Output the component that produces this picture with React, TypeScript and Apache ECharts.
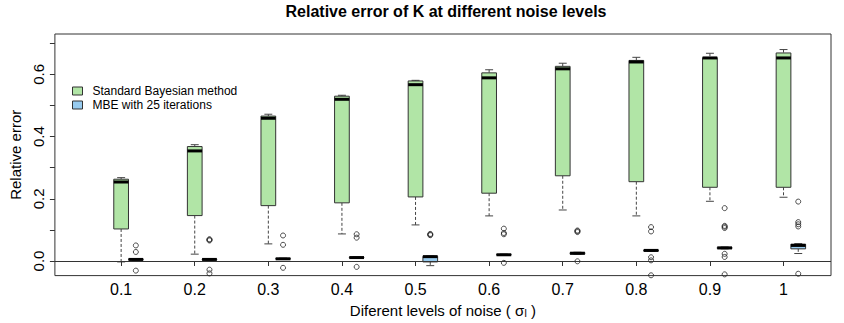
import React, { useEffect, useRef } from "react";
import * as echarts from "echarts";

// Noise levels (x categories) and their axis positions
const noiseLevels = ["0.1", "0.2", "0.3", "0.4", "0.5", "0.6", "0.7", "0.8", "0.9", "1"];
const positions = [1, 2, 3, 4, 5, 6, 7, 8, 9, 10];

// Box statistics: [lower whisker, Q1, median, Q3, upper whisker]
const standardBayes: number[][] = [
  [-0.003, 0.103, 0.254, 0.263, 0.268],
  [0.022, 0.146, 0.354, 0.368, 0.374],
  [0.055, 0.178, 0.459, 0.466, 0.472],
  [0.087, 0.187, 0.52, 0.53, 0.533],
  [0.116, 0.206, 0.567, 0.579, 0.581],
  [0.145, 0.218, 0.589, 0.605, 0.615],
  [0.164, 0.274, 0.618, 0.626, 0.636],
  [0.145, 0.255, 0.64, 0.645, 0.655],
  [0.192, 0.237, 0.653, 0.654, 0.668],
  [0.205, 0.237, 0.653, 0.669, 0.68],
];

const mbe25: number[][] = [
  [0.003, 0.004, 0.005, 0.006, 0.007],
  [0.003, 0.004, 0.005, 0.006, 0.007],
  [0.005, 0.006, 0.007, 0.008, 0.009],
  [0.009, 0.01, 0.011, 0.012, 0.013],
  [-0.015, -0.003, 0.014, 0.015, 0.016],
  [0.018, 0.019, 0.02, 0.021, 0.022],
  [0.021, 0.022, 0.025, 0.027, 0.028],
  [0.031, 0.032, 0.034, 0.035, 0.036],
  [0.039, 0.04, 0.042, 0.044, 0.045],
  [0.024, 0.039, 0.05, 0.054, 0.056],
];

// Outliers of the MBE boxes, one list per noise level
const mbeOutliers: number[][] = [
  [0.05, 0.029, -0.031],
  [0.066, 0.068, 0.07, -0.028, -0.04],
  [0.082, 0.052, -0.022],
  [0.086, 0.075, -0.019],
  [0.083, 0.085, 0.087],
  [0.104, 0.09, 0.086, -0.006],
  [0.093, 0.096, 0.098, -0.001],
  [0.109, 0.095, 0.012, 0.002, -0.046],
  [0.17, 0.106, 0.11, 0.113, 0.023, 0.013, -0.043],
  [0.191, 0.125, 0.118, 0.111, -0.041],
];

const yTicks = [0, 0.1, 0.2, 0.3, 0.4, 0.5, 0.6, 0.7];
const yLabels = [0, 0.2, 0.4, 0.6];

const GREEN = "#B1E5A6";
const BLUE = "#97CBEF";
const MBE_OFFSET = 0.2;
const BOX_WIDTH = 0.2;
const FONT = "'Liberation Sans', Arial, Helvetica, sans-serif";

function makeRenderItem(fill: string) {
  return (params: any, api: any) => {
    const x = api.value(0);
    const pLo = api.coord([x, api.value(1)]);
    const pQ1 = api.coord([x, api.value(2)]);
    const pMed = api.coord([x, api.value(3)]);
    const pQ3 = api.coord([x, api.value(4)]);
    const pHi = api.coord([x, api.value(5)]);
    const w = api.size([BOX_WIDTH, 0])[0];
    const cx = pMed[0];
    const half = w / 2;
    const capHalf = w * 0.27;
    const whisker = { stroke: "#444", lineWidth: 1, lineDash: [3, 2] };
    const cap = { stroke: "#444", lineWidth: 1 };
    return {
      type: "group",
      children: [
        { type: "line", shape: { x1: cx, y1: pHi[1], x2: cx, y2: pQ3[1] }, style: whisker },
        { type: "line", shape: { x1: cx, y1: pQ1[1], x2: cx, y2: pLo[1] }, style: whisker },
        { type: "line", shape: { x1: cx - capHalf, y1: pHi[1], x2: cx + capHalf, y2: pHi[1] }, style: cap },
        { type: "line", shape: { x1: cx - capHalf, y1: pLo[1], x2: cx + capHalf, y2: pLo[1] }, style: cap },
        {
          type: "rect",
          shape: { x: cx - half, y: pQ3[1], width: w, height: pQ1[1] - pQ3[1] },
          style: { fill, stroke: "#333", lineWidth: 1 },
        },
        { type: "line", shape: { x1: cx - half, y1: pMed[1], x2: cx + half, y2: pMed[1] }, style: { stroke: "#000", lineWidth: 3 } },
      ],
    };
  };
}

export default function App() {
  const ref = useRef<HTMLDivElement>(null);
  useEffect(() => {
    document.body.style.margin = "0";
    if (!ref.current) return;
    const chart = echarts.init(ref.current, undefined, { renderer: "svg" });

    const greenData = standardBayes.map((s, i) => [positions[i], ...s]);
    const blueData = mbe25.map((s, i) => [positions[i] + MBE_OFFSET, ...s]);
    const outlierData: number[][] = [];
    mbeOutliers.forEach((list, i) => list.forEach((v) => outlierData.push([positions[i] + MBE_OFFSET, v])));

    chart.setOption({
      animation: false,
      backgroundColor: "#fff",
      textStyle: { fontFamily: FONT },
      title: {
        text: "Relative error of K at different noise levels",
        left: 441,
        top: -2,
        textAlign: "center",
        textStyle: { fontFamily: FONT, fontSize: 16, fontWeight: "bold", color: "#000" },
      },
      legend: {
        orient: "vertical",
        left: 72,
        top: 84,
        padding: 0,
        itemGap: 0,
        itemWidth: 10,
        itemHeight: 8,
        textStyle: { fontFamily: FONT, fontSize: 12, color: "#000", lineHeight: 14, padding: [0, 0, 0, 5] },
        data: [
          { name: "Standard Bayesian method", icon: "rect", itemStyle: { color: GREEN, borderColor: "#333", borderWidth: 1 } },
          { name: "MBE with 25 iterations", icon: "rect", itemStyle: { color: BLUE, borderColor: "#333", borderWidth: 1 } },
        ],
      },
      grid: {
        left: 54,
        right: 13,
        top: 34,
        bottom: 46,
        show: true,
        borderColor: "#333",
        borderWidth: 1,
        containLabel: false,
      },
      xAxis: {
        type: "value",
        min: 0.1,
        max: 10.645,
        axisLine: { show: false },
        splitLine: { show: false },
        axisTick: { show: true, customValues: positions, length: 5, lineStyle: { color: "#333" } },
        axisLabel: {
          customValues: positions,
          formatter: (v: number) => noiseLevels[positions.indexOf(Math.round(v))] ?? "",
          fontSize: 16,
          color: "#000",
          margin: 6,
          fontFamily: FONT,
        },
        name: "Diferent levels of noise ( σ{sub|I} )",
        nameLocation: "middle",
        nameGap: 19,
        nameTextStyle: {
          fontSize: 15,
          color: "#000",
          fontFamily: FONT,
          rich: { sub: { fontSize: 10, color: "#000", fontFamily: FONT, padding: [6, 0, 0, 0] } },
        },
      },
      yAxis: {
        type: "value",
        min: -0.047,
        max: 0.73,
        axisLine: { show: false },
        splitLine: { show: false },
        axisTick: { show: true, customValues: yTicks, length: 5, lineStyle: { color: "#333" } },
        axisLabel: {
          customValues: yLabels,
          formatter: (v: number) => v.toFixed(1),
          rotate: 90,
          fontSize: 15,
          color: "#000",
          margin: 9,
          fontFamily: FONT,
        },
        name: "Relative error",
        nameLocation: "middle",
        nameGap: 29,
        nameTextStyle: { fontSize: 15, color: "#000", fontFamily: FONT },
      },
      series: [
        {
          name: "Standard Bayesian method",
          type: "custom",
          renderItem: makeRenderItem(GREEN),
          encode: { x: 0, y: [1, 2, 3, 4, 5] },
          itemStyle: { color: GREEN },
          data: greenData,
          z: 3,
        },
        {
          name: "MBE with 25 iterations",
          type: "custom",
          renderItem: makeRenderItem(BLUE),
          encode: { x: 0, y: [1, 2, 3, 4, 5] },
          itemStyle: { color: BLUE },
          data: blueData,
          z: 3,
        },
        {
          name: "outliers",
          type: "scatter",
          symbol: "circle",
          symbolSize: 5,
          itemStyle: { color: "rgba(0,0,0,0)", borderColor: "#222", borderWidth: 1 },
          data: outlierData,
          silent: true,
          z: 4,
          markLine: {
            silent: true,
            symbol: "none",
            label: { show: false },
            lineStyle: { color: "#333", width: 1, type: "solid" },
            data: [{ yAxis: 0 }],
          },
        },
      ],
    });
    return () => chart.dispose();
  }, []);
  return <div ref={ref} style={{ width: 844, height: 323 }} />;
}
